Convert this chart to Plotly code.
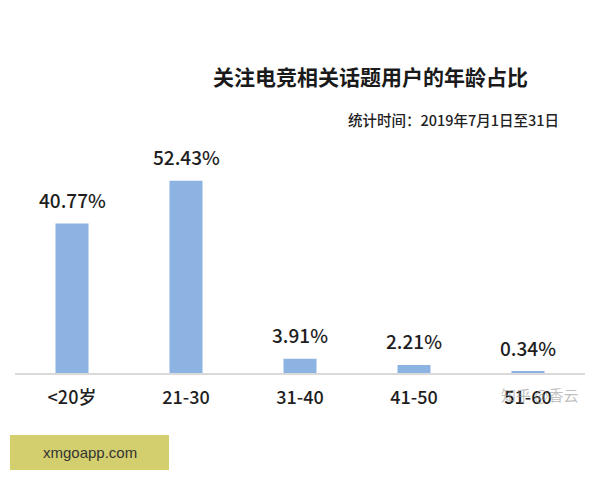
import plotly.graph_objects as go

categories = ["<20岁", "21-30", "31-40", "41-50", "51-60"]
values = [40.77, 52.43, 3.91, 2.21, 0.34]
value_labels = ["40.77%", "52.43%", "3.91%", "2.21%", "0.34%"]

title_text = "关注电竞相关话题用户的年龄占比"
subtitle_text = "统计时间：2019年7月1日至31日"
cjk = "Noto Sans CJK SC, Noto Sans, sans-serif"

fig = go.Figure()
fig.add_trace(go.Bar(
    x=categories, y=values,
    marker=dict(color="#8DB3E2", line=dict(width=0)),
    hoverinfo="skip",
))

annotations = []
for c, v, t in zip(categories, values, value_labels):
    annotations.append(dict(
        x=c, y=v, xref="x", yref="y", text=t, showarrow=False,
        yanchor="bottom", yshift=9,
        font=dict(family=cjk, size=19, color="#1e1e1e", weight=500),
    ))

def px_x(px):
    return (px - 15) / 570.0

def px_y(py):
    return (373 - py) / 220.0

annotations += [
    dict(x=px_x(370), y=px_y(76), xref="paper", yref="paper", text="<b>" + title_text + "</b>",
         showarrow=False, xanchor="center", yanchor="middle",
         font=dict(family=cjk, size=21, color="#1a1a1a")),
    dict(x=px_x(561), y=px_y(119), xref="paper", yref="paper", text=subtitle_text,
         showarrow=False, xanchor="right", yanchor="middle",
         font=dict(family=cjk, size=14.5, color="#222222", weight=500)),
    dict(x=px_x(540), y=px_y(394), xref="paper", yref="paper", text="知乎 @香云",
         showarrow=False, xanchor="center", yanchor="middle",
         font=dict(family=cjk, size=15, color="rgba(150,150,150,0.6)")),
    dict(x=px_x(89.5), y=px_y(452), xref="paper", yref="paper", text="xmgoapp.com",
         showarrow=False, xanchor="center", yanchor="middle",
         font=dict(family="Liberation Sans, Arial, sans-serif", size=15, color="#333333")),
]

shapes = [
    dict(type="rect", xref="paper", yref="paper",
         x0=px_x(10), x1=px_x(169), y0=px_y(470), y1=px_y(435),
         fillcolor="#D3CF6E", line=dict(width=0), layer="below"),
]

fig.update_layout(
    width=600, height=480,
    margin=dict(l=7, r=23, t=145, b=115),
    paper_bgcolor="white", plot_bgcolor="white",
    bargap=0.71,
    showlegend=False,
    annotations=annotations,
    shapes=shapes,
    xaxis=dict(
        showgrid=False, showline=True, linecolor="#D9D9D9", linewidth=1.5,
        ticks="", ticklabelstandoff=8,
        tickfont=dict(family=cjk, size=18, color="#1e1e1e", weight=500),
    ),
    yaxis=dict(range=[0, 60], visible=False, showgrid=False, zeroline=False),
)

fig.write_html("out.html")
